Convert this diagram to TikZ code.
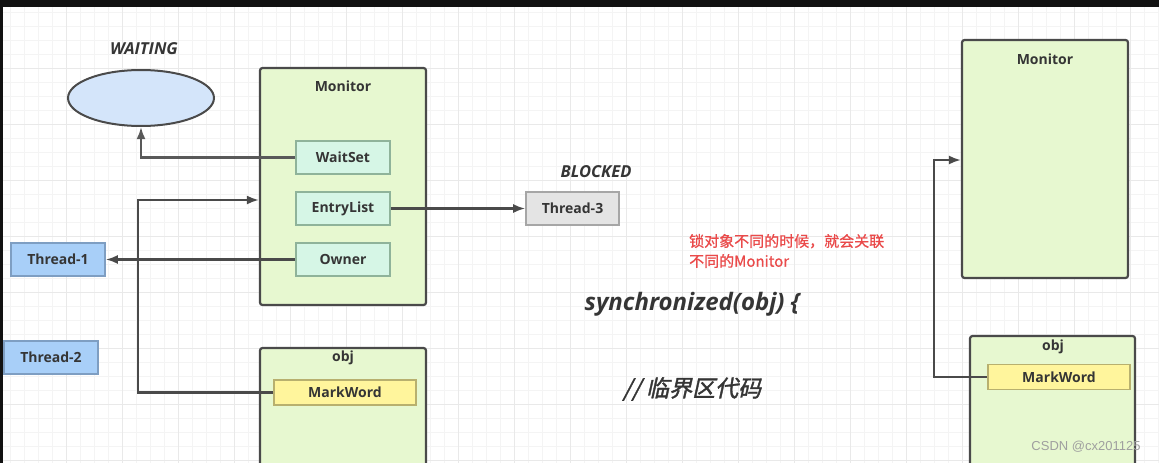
\documentclass[tikz,border=0pt]{standalone}
\usepackage{fontspec}
\setmainfont{Open Sans}
\newfontfamily\cjk[FakeBold=0.8]{Noto Sans CJK SC}
\newfontfamily\cjkit[FakeSlant=0.22,FakeBold=1.5]{Noto Sans CJK SC}
\newfontfamily\wmfont{Liberation Sans}
\usetikzlibrary{arrows.meta,shapes.geometric}

\definecolor{ink}{HTML}{353535}
\definecolor{edge}{HTML}{4A4A4A}
\definecolor{mongreen}{HTML}{E7F8D0}
\definecolor{slotfill}{HTML}{D6F6E6}
\definecolor{slotedge}{HTML}{8FB39A}
\definecolor{waitfill}{HTML}{D4E5FA}
\definecolor{threadfill}{HTML}{A8CFF8}
\definecolor{threadedge}{HTML}{7E9EC2}
\definecolor{blockfill}{HTML}{E4E4E4}
\definecolor{markfill}{HTML}{FFF59C}
\definecolor{markedge}{HTML}{B8B06E}
\definecolor{note}{HTML}{EA4A4A}

\begin{document}
\begin{tikzpicture}
  [x=1pt,y=-1pt,
   every node/.style={font=\fontsize{14}{16}\selectfont\bfseries,text=ink,inner sep=0pt},
   frame/.style={draw=edge,line width=2.2pt,rounded corners=2.5pt,fill=mongreen},
   slot/.style={draw=slotedge,line width=1.6pt,fill=slotfill,minimum width=94,minimum height=33},
   thread/.style={draw=threadedge,line width=1.6pt,fill=threadfill,minimum width=94,minimum height=33},
   markword/.style={draw=markedge,line width=1.6pt,fill=markfill,minimum width=142,minimum height=25},
   state/.style={font=\fontsize{16.5}{18}\selectfont\bfseries\itshape},
   link/.style={draw=edge,line width=2.2pt,-{Latex[length=12pt,width=9pt]}},
   gridline/.style={gray!9,line width=0.8pt},
   majorline/.style={gray!17,line width=0.8pt}]

  \useasboundingbox (0,0) rectangle (1159,463);
  \clip (0,0) rectangle (1159,463);
  \fill[white] (0,0) rectangle (1159,463);

  % background grid
  \foreach \gx in {10,24,...,1159} \draw[gridline] (\gx,7) -- (\gx,463);
  \foreach \gy in {12,26,...,463} \draw[gridline] (3,\gy) -- (1159,\gy);
  \foreach \gx in {66,122,...,1159} \draw[majorline] (\gx,7) -- (\gx,463);
  \foreach \gy in {68,124,...,463} \draw[majorline] (3,\gy) -- (1159,\gy);

  \fill[black!93] (0,0) rectangle (1159,7);
  \fill[black!93] (0,0) rectangle (3,463);

  % left side
  \node[state] (waitlbl) at (144,49) {WAITING};
  \node[ellipse,draw=edge,line width=2pt,fill=waitfill,minimum width=146,minimum height=56] (wait) at (141,98) {};

  \node[frame,minimum width=166,minimum height=237] (mon) at (343,186.5) {};
  \node (montitle) at (343,86) {Monitor};
  \node[slot] (ws) at (343,157.5) {WaitSet};
  \node[slot] (el) at (343,208.5) {EntryList};
  \node[slot] (own) at (343,259.5) {Owner};

  \node[state] (blk) at (596,172) {BLOCKED};
  \node[draw=gray!70,line width=1.6pt,fill=blockfill,minimum width=93,minimum height=33] (t3) at (572.5,208.5) {Thread-3};

  \node[thread] (t1) at (58,259.5) {Thread-1};
  \node[thread] (t2) at (51,357.5) {Thread-2};

  \node[frame,minimum width=166,minimum height=160] (obj) at (343,428) {};
  \node (objtitle) at (343,358) {obj};
  \node[markword] (mw) at (345,392.5) {MarkWord};

  \coordinate (bendl) at (138,200);
  \draw[link,draw=gray!70!black] (ws.west) -| (wait.south);
  \draw[link] (el.east) -- (t3.west);
  \draw[link] (own.west) -- (t1.east);
  \draw[link] (mw.west) -| (bendl) -- (bendl -| mon.west);

  % middle text
  \node[anchor=west,align=left,text=note,font=\cjk\fontsize{15}{20}\selectfont] (hint) at (689,251)
    {锁对象不同的时候，就会关联\\不同的Monitor};
  \node[font=\fontsize{24}{28}\selectfont\bfseries\itshape] (sync) at (692,304) {synchronized(obj) \{};
  \node[font=\cjkit\fontsize{23}{28}\selectfont] (crit) at (692,389) {// 临界区代码};

  % right side
  \node[frame,minimum width=166,minimum height=238] (mon2) at (1045,159) {};
  \node (mon2title) at (1045,59) {Monitor};
  \node[frame,minimum width=165,minimum height=170] (obj2) at (1052.5,421) {};
  \node (obj2title) at (1053,347) {obj};
  \node[markword] (mw2) at (1059,377) {MarkWord};

  \coordinate (bendr) at (934,160);
  \draw[link] (mw2.west) -| (bendr) -- (bendr -| mon2.west);

  \node[font=\wmfont\fontsize{13}{15}\selectfont,text=gray!75] (wm) at (1086,447) {CSDN @cx201125};
\end{tikzpicture}
\end{document}
